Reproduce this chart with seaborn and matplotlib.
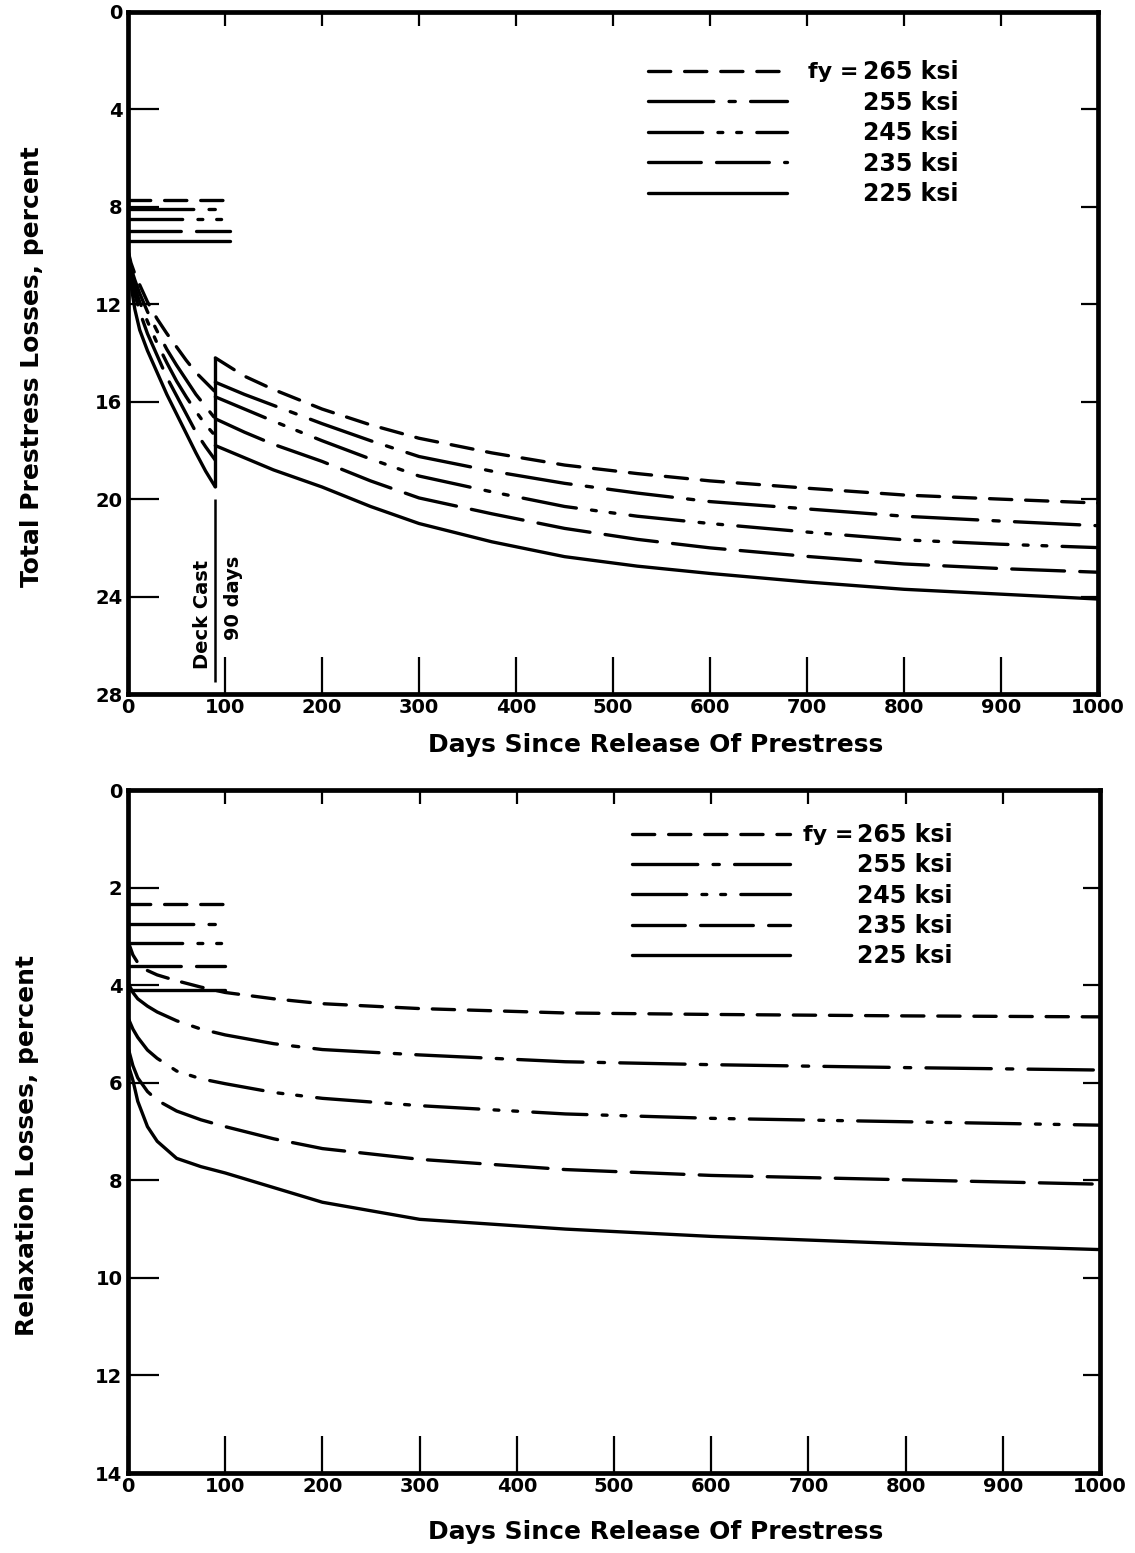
import numpy as np
import pandas as pd
import matplotlib
matplotlib.use("Agg")
import matplotlib.pyplot as plt
import seaborn as sns
from matplotlib.lines import Line2D

# ---------------- data ----------------
fy_levels = ["265", "255", "245", "235", "225"]
x_ticks = [0, 100, 200, 300, 400, 500, 600, 700, 800, 900, 1000]
top_yticks = [0, 4, 8, 12, 16, 20, 24, 28]
bot_yticks = [0, 2, 4, 6, 8, 10, 12, 14]

# Top panel: total prestress losses, percent
deck_day = 90
total_init_days = [0, 105]
total_init = [7.7, 8.1, 8.5, 9.0, 9.4]           # 265 ... 225

total_pre_days = [0, 3, 7, 12, 20, 30, 40, 50, 60, 70, 80, 90]
total_pre_265 = [9.8, 10.3, 10.75, 11.2, 11.9, 12.6, 13.2, 13.75, 14.3, 14.8, 15.2, 15.6]
total_pre_255 = [9.8, 10.5, 11.0, 11.55, 12.3, 13.1, 13.85, 14.5, 15.1, 15.7, 16.2, 16.7]
total_pre_245 = [9.9, 10.7, 11.3, 11.9, 12.7, 13.6, 14.4, 15.15, 15.8, 16.4, 16.95, 17.4]
total_pre_235 = [9.9, 10.9, 11.6, 12.3, 13.2, 14.1, 15.0, 15.75, 16.5, 17.25, 17.85, 18.4]
total_pre_225 = [10.0, 11.2, 12.2, 13.05, 13.9, 14.8, 15.7, 16.5, 17.3, 18.1, 18.85, 19.5]

total_post_days = [90, 120, 150, 200, 250, 300, 375, 450, 525, 600, 700, 800, 900, 1000]
total_post_265 = [14.2, 14.95, 15.5, 16.3, 16.95, 17.5, 18.1, 18.6, 18.95, 19.25, 19.55, 19.83, 20.0, 20.16]
total_post_255 = [15.2, 15.7, 16.15, 16.9, 17.6, 18.25, 18.85, 19.35, 19.75, 20.1, 20.4, 20.7, 20.9, 21.09]
total_post_245 = [15.8, 16.3, 16.8, 17.6, 18.35, 19.05, 19.7, 20.3, 20.7, 21.0, 21.35, 21.67, 21.85, 21.99]
total_post_235 = [16.7, 17.25, 17.75, 18.45, 19.25, 19.95, 20.6, 21.2, 21.65, 22.0, 22.35, 22.66, 22.85, 23.0]
total_post_225 = [17.8, 18.3, 18.8, 19.5, 20.3, 21.0, 21.75, 22.36, 22.75, 23.05, 23.4, 23.7, 23.9, 24.1]

deck_marker_span = [20.0, 27.5]

# Bottom panel: relaxation losses, percent
relax_init_days = [0, 100]
relax_init = [2.33, 2.74, 3.14, 3.6, 4.1]

relax_days = [0, 5, 10, 20, 30, 50, 75, 100, 150, 200, 300, 450, 600, 800, 1000]
relax_265 = [3.1, 3.38, 3.54, 3.7, 3.79, 3.91, 4.04, 4.15, 4.28, 4.38, 4.48, 4.57, 4.6, 4.63, 4.65]
relax_255 = [3.95, 4.15, 4.28, 4.43, 4.55, 4.73, 4.9, 5.02, 5.2, 5.32, 5.43, 5.57, 5.63, 5.69, 5.74]
relax_245 = [4.67, 4.9, 5.07, 5.33, 5.5, 5.76, 5.92, 6.02, 6.2, 6.32, 6.47, 6.64, 6.73, 6.8, 6.87]
relax_235 = [5.28, 5.65, 5.9, 6.18, 6.36, 6.58, 6.76, 6.9, 7.15, 7.35, 7.57, 7.78, 7.9, 7.99, 8.08]
relax_225 = [5.62, 5.95, 6.38, 6.9, 7.2, 7.55, 7.72, 7.85, 8.15, 8.45, 8.8, 9.0, 9.15, 9.3, 9.42]

# ---------------- build tables ----------------
pre = dict(zip(fy_levels, [total_pre_265, total_pre_255, total_pre_245, total_pre_235, total_pre_225]))
post = dict(zip(fy_levels, [total_post_265, total_post_255, total_post_245, total_post_235, total_post_225]))
rel = dict(zip(fy_levels, [relax_265, relax_255, relax_245, relax_235, relax_225]))

rows = []
for i, f in enumerate(fy_levels):
    for d in total_init_days:
        rows.append(dict(day=d, loss=total_init[i], fy=f, seg="init"))
    for d, v in zip(total_pre_days, pre[f]):
        rows.append(dict(day=d, loss=v, fy=f, seg="pre"))
    for d, v in zip(total_post_days, post[f]):
        rows.append(dict(day=d, loss=v, fy=f, seg="post"))
df_top = pd.DataFrame(rows)

rows = []
for i, f in enumerate(fy_levels):
    for d in relax_init_days:
        rows.append(dict(day=d, loss=relax_init[i], fy=f, seg="init"))
    for d, v in zip(relax_days, rel[f]):
        rows.append(dict(day=d, loss=v, fy=f, seg="curve"))
df_bot = pd.DataFrame(rows)

# ---------------- style ----------------
sns.set_style("white")
plt.rcParams["font.family"] = ["DejaVu Sans"]
plt.rcParams["font.weight"] = "bold"
plt.rcParams["text.color"] = "black"
plt.rcParams["axes.labelcolor"] = "black"
plt.rcParams["xtick.color"] = "black"
plt.rcParams["ytick.color"] = "black"
plt.rcParams["lines.scale_dashes"] = False
plt.rcParams["lines.solid_capstyle"] = "round"
plt.rcParams["lines.dash_capstyle"] = "round"
plt.rcParams["lines.solid_joinstyle"] = "round"
plt.rcParams["lines.dash_joinstyle"] = "round"

LW = 2.4
dash_map = {
    "265": (16, 10),
    "255": (47, 11, 4.5, 11),
    "245": (39, 11, 3.5, 10, 3.5, 11),
    "235": (38, 11),
    "225": "",
}

fig = plt.figure(figsize=(11.35, 15.53), dpi=100)
ax_top = fig.add_axes([0.1128, 0.5531, 0.8546, 0.4392])
ax_bot = fig.add_axes([0.1128, 0.0515, 0.8564, 0.4398])

TICK_FS = 14
LABEL_FS = 18
LEG_FS = 17


def style_axes(ax, yticks, ylim):
    ax.set_xlim(0, 1000)
    ax.set_ylim(ylim, 0)
    ax.set_xticks(x_ticks)
    ax.set_yticks(yticks)
    ax.set_xticklabels([str(t) for t in x_ticks], fontsize=TICK_FS, fontweight="bold")
    ax.set_yticklabels([str(t) for t in yticks], fontsize=TICK_FS, fontweight="bold")
    ax.tick_params(axis="x", bottom=True, direction="in", length=27, width=1.6,
                   pad=3, color="black")
    ax.tick_params(axis="y", left=True, direction="in", length=22, width=1.6,
                   pad=4, color="black")
    for s in ax.spines.values():
        s.set_visible(True)
        s.set_linewidth(3.4)
        s.set_color("black")
    sx = ax.secondary_xaxis("top")
    sx.set_xticks(x_ticks)
    sx.tick_params(top=True, direction="in", length=10, width=1.6, labeltop=False)
    sy = ax.secondary_yaxis("right")
    sy.set_yticks(yticks)
    sy.tick_params(right=True, direction="in", length=12, width=1.6, labelright=False)
    for s in list(sx.spines.values()) + list(sy.spines.values()):
        s.set_visible(False)


def add_legend(ax, anchor, hlen, hpad):
    handles = [Line2D([], [], color="black", lw=LW,
                      dashes=dash_map[f] if dash_map[f] else (None, None))
               for f in fy_levels]
    leg = ax.legend(handles, [f"{f} ksi" for f in fy_levels], loc="upper left",
                    bbox_to_anchor=anchor, frameon=False, handlelength=hlen,
                    handletextpad=hpad, labelspacing=0.27, borderpad=0,
                    borderaxespad=0, prop=dict(size=LEG_FS, weight="bold"))
    ax.annotate("fy =", xy=(0, 0.5), xycoords=leg.get_texts()[0],
                xytext=(-3, 0), textcoords="offset points", ha="right",
                va="center", fontsize=16, fontweight="bold", zorder=20)


# ---------------- top panel ----------------
sns.lineplot(data=df_top, x="day", y="loss", style="fy", style_order=fy_levels,
             units="seg", estimator=None, dashes=dash_map, color="black",
             linewidth=LW, legend=False, sort=False, ax=ax_top)
ax_top.vlines(deck_day, min(p[0] for p in post.values()),
              max(p[-1] for p in pre.values()), color="black", lw=LW)
ax_top.vlines(deck_day, deck_marker_span[0], deck_marker_span[1], color="black", lw=1.8)
ax_top.text(deck_day - 13, 24.75, "Deck Cast", rotation=90, ha="center", va="center",
            fontsize=14, fontweight="bold")
ax_top.text(deck_day + 19, 24.05, "90 days", rotation=90, ha="center", va="center",
            fontsize=14, fontweight="bold")
style_axes(ax_top, top_yticks, 28)
ax_top.set_xlabel("Days Since Release Of Prestress", fontsize=LABEL_FS, fontweight="bold")
ax_top.set_ylabel("Total Prestress Losses, percent", fontsize=LABEL_FS, fontweight="bold")
ax_top.xaxis.set_label_coords(0.544, -0.057)
ax_top.yaxis.set_label_coords(-0.087, 0.48)
add_legend(ax_top, (0.536, 0.929), 5.9, 3.2)

# ---------------- bottom panel ----------------
sns.lineplot(data=df_bot, x="day", y="loss", style="fy", style_order=fy_levels,
             units="seg", estimator=None, dashes=dash_map, color="black",
             linewidth=LW, legend=False, sort=False, ax=ax_bot)
style_axes(ax_bot, bot_yticks, 14)
ax_bot.set_xlabel("Days Since Release Of Prestress", fontsize=LABEL_FS, fontweight="bold")
ax_bot.set_ylabel("Relaxation Losses, percent", fontsize=LABEL_FS, fontweight="bold")
ax_bot.xaxis.set_label_coords(0.543, -0.069)
ax_bot.yaxis.set_label_coords(-0.0916, 0.48)
add_legend(ax_bot, (0.5185, 0.952), 6.7, 2.84)

fig.savefig("out.png", dpi=100, facecolor="white")
